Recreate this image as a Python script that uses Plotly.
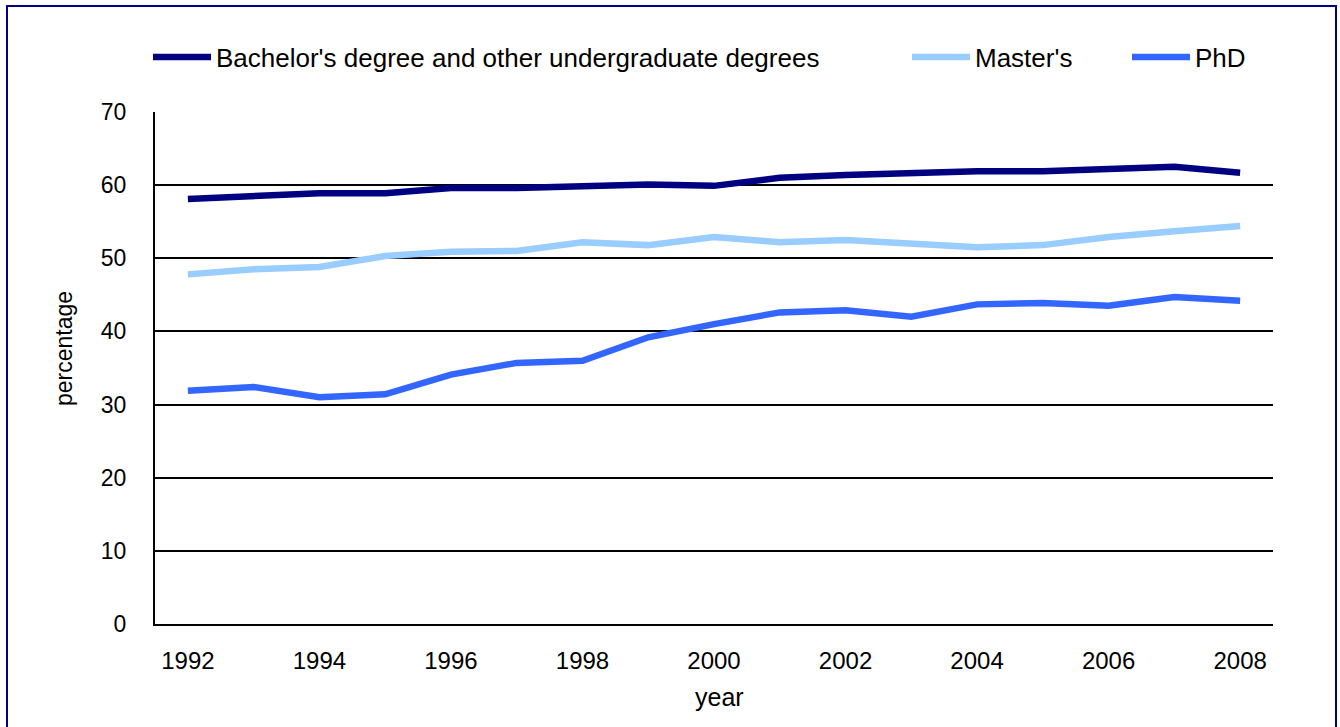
import plotly.graph_objects as go

years = list(range(1992, 2009))
bachelor = [58.1, 58.4, 58.9, 58.9, 59.6, 59.6, 59.95, 60.1, 59.9, 61.0, 61.4, 61.7, 61.9, 61.9, 62.1, 62.5, 61.7]
masters = [47.8, 48.5, 48.8, 50.3, 50.9, 51.0, 52.2, 51.8, 52.9, 52.2, 52.5, 52.0, 51.5, 51.8, 52.9, 53.7, 54.4]
phd = [31.9, 32.4, 31.0, 31.4, 34.1, 35.7, 36.0, 39.2, 41.0, 42.6, 42.9, 42.0, 43.7, 43.9, 43.5, 44.7, 44.2]

names = ["Bachelor's degree and other undergraduate degrees", "Master's", "PhD"]
colors = ["#000080", "#99CCFF", "#3366FF"]
series = [bachelor, masters, phd]
legends = ["legend", "legend2", "legend3"]

FONT = "Liberation Sans, Arial, sans-serif"

# plot area in pixels: x 155..1273, y 112..624
L, R, T, B = 155, 1273, 112, 624
W, H = R - L, B - T

def px(x):
    return (x - L) / W

def py(y):
    return (B - y) / H

fig = go.Figure()
for name, col, vals, lg in zip(names, colors, series, legends):
    fig.add_trace(go.Scatter(x=years, y=vals, name=name, mode="lines", showlegend=True,
                             line=dict(color=col, width=6.5), legend=lg))

leg_common = dict(orientation="h", yanchor="middle", xanchor="left",
                  font=dict(family=FONT, size=26, color="#000"),
                  bgcolor="rgba(0,0,0,0)", itemwidth=58)

fig.update_layout(
    width=1340, height=727,
    showlegend=True,
    margin=dict(l=L, r=1340 - R, t=T, b=727 - B),
    paper_bgcolor="white", plot_bgcolor="white",
    font=dict(family=FONT, color="#000"),
    legend=dict(x=px(148), y=py(57), **leg_common),
    legend2=dict(x=px(907), y=py(57), **leg_common),
    legend3=dict(x=px(1127), y=py(57), **leg_common),
    xaxis=dict(range=[1991.5, 2008.5], tickmode="array", tickvals=list(range(1992, 2009, 2)),
               showgrid=False, zeroline=False, showline=True, linecolor="#000", linewidth=2,
               ticks="", tickfont=dict(size=24, family=FONT, color="#000"),
               ticklabelstandoff=14),
    yaxis=dict(range=[0, 70], tickmode="array", tickvals=list(range(0, 71, 10)),
               showgrid=True, gridcolor="#000", gridwidth=2, zeroline=False,
               showline=True, linecolor="#000", linewidth=2,
               ticks="", tickfont=dict(size=23, family=FONT, color="#000"),
               ticklabelstandoff=22),
    annotations=[
        dict(text="year", xref="paper", yref="paper", x=px(719), y=py(697),
             xanchor="center", yanchor="middle", showarrow=False,
             font=dict(size=25, family=FONT, color="#000")),
        dict(text="percentage", xref="paper", yref="paper", x=px(64), y=py(349),
             xanchor="center", yanchor="middle", showarrow=False, textangle=-90,
             font=dict(size=23, family=FONT, color="#000")),
    ],
    shapes=[dict(type="rect", xref="paper", yref="paper",
                 x0=px(7), x1=px(1336), y0=py(760), y1=py(6),
                 line=dict(color="#000080", width=2), fillcolor="rgba(0,0,0,0)", layer="below")],
)

fig.write_html("out.html")
